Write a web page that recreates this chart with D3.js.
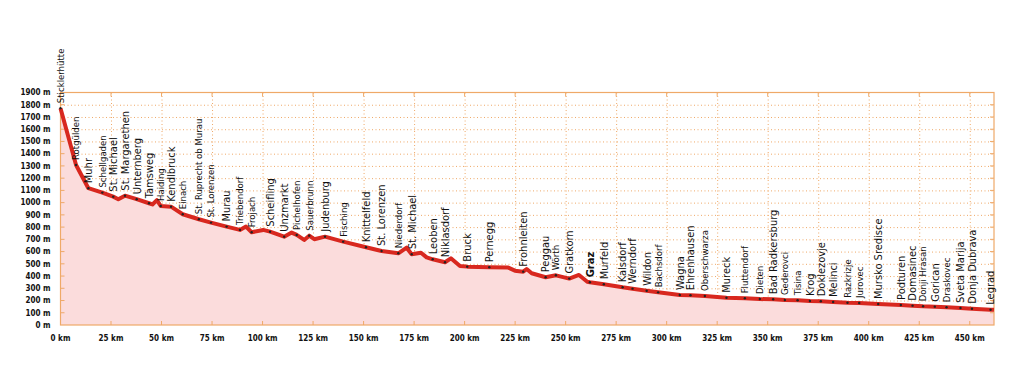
<!DOCTYPE html>
<html>
<head>
<meta charset="utf-8">
<script src="https://cdn.jsdelivr.net/npm/d3@7"></script>
<style>
  body { margin: 0; background: #fff; }
  svg text { font-family: "Liberation Sans Narrow", "DejaVu Sans Condensed", "Liberation Sans", sans-serif; font-stretch: condensed; }
</style>
</head>
<body>
<div id="vis"></div>
<script>
const margin = { top: 92.5, right: 22, bottom: 64, left: 60.5 };
const width = 1016 - margin.left - margin.right;
const height = 389 - margin.top - margin.bottom;

// profile points: name ("" = bend without marker), km, elevation (m)
const placeNames = ["Sticklerhütte", "Rotgülden", "Muhr", "Schellgaden", "St. Michael", "", "St. Margarethen", "Unternberg", "Tamsweg", "", "",
    "Haiding", "Kendlbruck", "Einach", "St. Ruprecht ob Murau", "St. Lorenzen", "Murau", "Triebendorf", "", "Frojach", "",
    "Scheifling", "Unzmarkt", "", "Pichelhofen", "", "Sauerbrunn", "", "Judenburg", "Fisching", "Knittelfeld", "St. Lorenzen",
    "Niederdorf", "", "St. Michael", "", "", "Leoben", "Niklasdorf", "", "", "Bruck", "Pernegg", "", "",
    "Frohnleiten", "", "", "Peggau", "Wörth", "Gratkorn", "", "", "Graz", "Murfeld", "Kalsdorf", "Werndorf", "Wildon", "Bachsdorf",
    "Wagna", "Ehrenhausen", "Oberschwarza", "Mureck", "Fluttendorf", "Dieten", "Bad Radkersburg", "Gederovci", "Tisina", "Krog",
    "Doklezovje", "Melinci", "Razkrizje", "Jurovec", "Mursko Sredisce", "Podturen", "Domasinec", "Donji Hrasan", "Gorican",
    "Draskovec", "Sveta Marija", "Donja Dubrava", "Legrad"];
const placeKm = [0, 7.7, 13.8, 20.7, 26.1, 28.6, 31.9, 37.7, 43.8, 45.5, 47.7,
    49.6, 54.7, 60.5, 68.5, 74.5, 82.2, 88.8, 91.8, 94.6, 100.3,
    103.7, 110.7, 114.4, 116.9, 120.6, 123.1, 125.6, 130.9, 139.9, 151.2, 158.9,
    167.2, 171.3, 173.8, 178.4, 181.2, 184.2, 190.3, 193.2, 197.7, 201.3, 212.2, 221.6, 224.9,
    229, 230.7, 233.2, 240.1, 245.2, 251.8, 256.6, 260.7, 262, 268.9, 278.2, 283.1, 290.1, 295.8,
    306.5, 311.8, 318.9, 329.6, 338.7, 346.1, 352.7, 358.5, 364.8, 370.9,
    376.3, 382.4, 389.5, 395.3, 404.7, 415.9, 421.7, 426.9, 432.7,
    438.5, 445.4, 451.1, 460.3];
const placeElev = [1772, 1308, 1118, 1082, 1049, 1028, 1057, 1028, 995, 985, 1020,
    973, 967, 905, 864, 837, 804, 777, 804, 758, 777,
    763, 722, 755, 736, 695, 730, 701, 722, 681, 635, 605,
    586, 632, 578, 591, 553, 537, 513, 545, 482, 477, 472, 469, 444,
    436, 458, 423, 390, 406, 379, 409, 354, 349, 333, 308, 297, 280, 267,
    245, 243, 237, 223, 218, 212, 210, 204, 202, 196,
    194, 188, 182, 180, 172, 164, 158, 153, 150,
    145, 139, 133, 125];
const smallLabels = ["Sticklerhütte", "Rotgülden", "Schellgaden", "Haiding", "Einach", "St. Ruprecht ob Murau", "Triebendorf", "Frojach",
    "Pichelhofen", "Sauerbrunn", "Fisching", "Niederdorf", "Wörth", "Bachsdorf", "Oberschwarza", "Fluttendorf", "Dieten",
    "Gederovci", "Tisina", "Razkrizje", "Jurovec", "Donji Hrasan", "Draskovec"];
const boldLabels = ["Graz"];

const kmTicks = [0, 25, 50, 75, 100, 125, 150, 175, 200, 225, 250, 275, 300, 325, 350, 375, 400, 425, 450];
const elevTicks = d3.range(0, 2000, 100);

const points = placeNames.map((name, i) => ({ name: name, km: placeKm[i], elev: placeElev[i], idx: i }));
// only the first St. Lorenzen (index 15) has a small label
const smallIdx = new Set(points.filter(p => smallLabels.includes(p.name)).map(p => p.idx));
smallIdx.add(15);

const orange = "#efa968";

const svg = d3.select("#vis")
    .append("svg")
    .attr("width", width + margin.left + margin.right)
    .attr("height", height + margin.top + margin.bottom)
    .append("g")
    .attr("transform", `translate(${margin.left},${margin.top})`);

const xScale = d3.scaleLinear()
    .domain([0, 462])
    .range([0, width]);

const yScale = d3.scaleLinear()
    .domain([0, 1900])
    .range([height, 0]);

// grid
svg.append("g")
    .selectAll("line")
    .data(elevTicks.slice(1, -1))
    .enter()
    .append("line")
    .attr("x1", 0)
    .attr("x2", width)
    .attr("y1", d => yScale(d) + 0.5)
    .attr("y2", d => yScale(d) + 0.5)
    .style("stroke", orange)
    .style("stroke-width", 1)
    .style("stroke-dasharray", "1,2.5");

svg.append("g")
    .selectAll("line")
    .data(kmTicks.slice(1))
    .enter()
    .append("line")
    .attr("x1", d => xScale(d) + 0.5)
    .attr("x2", d => xScale(d) + 0.5)
    .attr("y1", 0)
    .attr("y2", height)
    .style("stroke", orange)
    .style("stroke-width", 1)
    .style("stroke-dasharray", "1,2.5");

// area + line
const area = d3.area()
    .x(d => xScale(d.km))
    .y0(yScale(0))
    .y1(d => yScale(d.elev));

const line = d3.line()
    .x(d => xScale(d.km))
    .y(d => yScale(d.elev));

const lastPt = { km: 462, elev: 124 };
const areaPts = [...points, lastPt];

svg.append("path")
    .datum(areaPts)
    .attr("d", area)
    .style("fill", "#fbdcdc");

// frame
svg.append("rect")
    .attr("x", 0)
    .attr("y", 0)
    .attr("width", width)
    .attr("height", height)
    .style("fill", "none")
    .style("stroke", orange)
    .style("stroke-width", 1.2);

// inner ticks on all sides
const tickLen = 4;
const frameTicks = svg.append("g").style("stroke", orange).style("stroke-width", 1);
kmTicks.slice(1).forEach(d => {
    frameTicks.append("line").attr("x1", xScale(d)).attr("x2", xScale(d)).attr("y1", 0).attr("y2", tickLen);
    frameTicks.append("line").attr("x1", xScale(d)).attr("x2", xScale(d)).attr("y1", height).attr("y2", height - tickLen);
});
elevTicks.slice(1, -1).forEach(d => {
    frameTicks.append("line").attr("x1", 0).attr("x2", tickLen).attr("y1", yScale(d)).attr("y2", yScale(d));
    frameTicks.append("line").attr("x1", width).attr("x2", width - tickLen).attr("y1", yScale(d)).attr("y2", yScale(d));
});

svg.append("path")
    .datum(areaPts)
    .attr("d", line)
    .style("fill", "none")
    .style("stroke", "#d8281f")
    .style("stroke-width", 4)
    .style("stroke-linejoin", "round");

const named = points.filter(p => p.name !== "");

svg.selectAll(null)
    .data(named)
    .enter()
    .append("circle")
    .attr("cx", d => xScale(d.km))
    .attr("cy", d => yScale(d.elev))
    .attr("r", 1.2)
    .style("fill", "#222");

svg.selectAll(null)
    .data(named)
    .enter()
    .append("text")
    .attr("transform", d => `translate(${xScale(d.km)},${yScale(d.elev) - 5}) rotate(-90)`)
    .attr("dy", "0.35em")
    .style("text-anchor", "start")
    .style("font-size", d => smallIdx.has(d.idx) ? "9.5px" : "11px")
    .style("font-weight", d => boldLabels.includes(d.name) ? "bold" : "normal")
    .style("fill", "#111")
    .text(d => d.name);

// axis labels
svg.append("g")
    .selectAll("text")
    .data(elevTicks)
    .enter()
    .append("text")
    .attr("x", -10)
    .attr("y", d => yScale(d))
    .attr("dy", "0.35em")
    .style("text-anchor", "end")
    .style("font-size", "8px")
    .style("font-weight", "600")
    .style("fill", "#111")
    .text(d => `${d} m`);

svg.append("g")
    .selectAll("text")
    .data(kmTicks)
    .enter()
    .append("text")
    .attr("x", d => xScale(d))
    .attr("y", height + 16)
    .style("text-anchor", "middle")
    .style("font-size", "8px")
    .style("font-weight", "600")
    .style("fill", "#111")
    .text(d => `${d} km`);
</script>
</body>
</html>
